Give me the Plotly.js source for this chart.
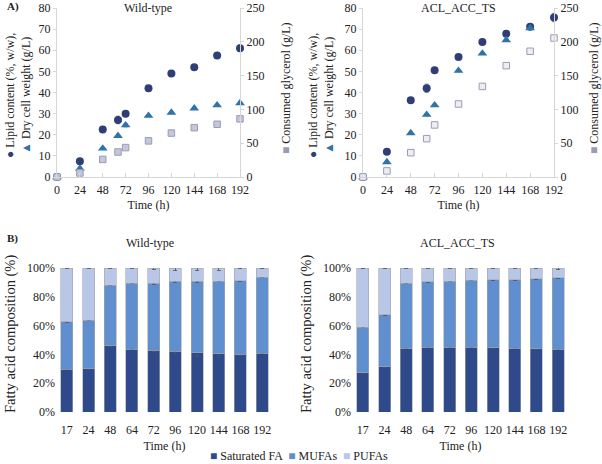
<!DOCTYPE html>
<html>
<head>
<meta charset="utf-8">
<script src="https://cdn.plot.ly/plotly-3.0.1.min.js"></script>
<style>html,body{margin:0;padding:0;background:#fff}#chart{width:602px;height:464px}</style>
</head>
<body>
<div id="chart"></div>
<script>
// ---- Panel A data ----
const timeA = [0, 24, 48, 64, 72, 96, 120, 144, 168, 192];
const tickA = [0, 24, 48, 72, 96, 120, 144, 168, 192];
const wtLipid = [0, 7.5, 22.5, 27, 30, 42, 49, 52, 57.5, 61];
const wtLipidErr = [0, 0.5, 1, 1.8, 1, 0.8, 0.6, 0.5, 1, 1.5];
const wtDCW = [0, 4, 13.5, 19.5, 24.5, 29, 30.5, 32.5, 34, 35];
const wtDCWErr = [0, 0.8, 0.5, 0.5, 0.8, 0.5, 0.5, 0.5, 0.5, 0.5];
const wtGly = [0, 6, 26, 37, 43.5, 53.5, 65, 73, 78, 86];
const wtGlyErr = [0, 2, 1, 1, 1, 2, 1, 1, 1, 1];
const mtLipid = [0, 12, 36.3, 42, 50.5, 56.8, 63.9, 67.8, 71.1, 75.5];
const mtLipidErr = [0, 0.5, 1, 2, 1, 1, 0.8, 0.8, 1, 2];
const mtDCW = [0, 7.1, 20.8, 29.5, 34, 50.3, 58.5, 64.8, 70.5, null];
const mtDCWErr = [0, 0.5, 0.5, 0.5, 0.5, 0.5, 0.5, 0.5, 0.5, 0];
const mtGly = [0, 9, 36, 56.7, 77, 108, 134, 164.7, 186, 205.6];
const mtGlyErr = [0, 1, 1, 1, 1, 1, 1, 1, 1, 1];

// ---- Panel B data ----
const timeB = ['17', '24', '48', '64', '72', '96', '120', '144', '168', '192'];
const wtSat = [29.8, 30, 46, 43.7, 42.8, 42.3, 41, 40.5, 40.2, 40.7];
const wtMUFA = [33, 33.7, 42.1, 45.8, 46.7, 48.6, 49.9, 50.4, 51, 52.8];
const wtPUFA = [37.2, 36.3, 11.9, 10.5, 10.5, 9.1, 9.1, 9.1, 8.8, 6.5];
const wtSatErr = [0.3, 0.3, 0.3, 0.3, 0.8, 2, 2.5, 1.5, 0.8, 0.3];
const wtMUFAErr = [0.4, 0.4, 0.5, 0.5, 0.8, 0.8, 1.2, 0.6, 0.5, 0.4];
const wtPUFAErr = [0.3, 0.3, 0.3, 0.3, 1, 2, 2, 1.5, 0.5, 0.5];
const mtSat = [27.1, 31.3, 44.4, 44.9, 44.9, 44.9, 44.7, 44.2, 44, 43.5];
const mtMUFA = [31.7, 36.3, 45, 45.4, 45.8, 46.5, 47, 47.5, 48.4, 49.8];
const mtPUFA = [41.2, 32.4, 10.6, 9.7, 9.3, 8.6, 8.3, 8.3, 7.6, 6.7];
const mtSatErr = [0.3, 0.3, 0.3, 0.3, 0.3, 0.3, 0.3, 0.3, 0.3, 0.3];
const mtMUFAErr = [0.3, 0.6, 0.4, 0.4, 0.4, 0.4, 0.4, 0.3, 0.3, 0.6];
const mtPUFAErr = [0.4, 0.6, 0.3, 0.3, 0.3, 0.2, 0.2, 0.3, 0.3, 1.2];
const seriesNames = ['Saturated FA', 'MUFAs', 'PUFAs'];

const W = 602, H = 464;
const px = x => x / W, py = y => 1 - y / H;
const FONT = "'Liberation Serif', 'Times New Roman', serif";
const cCirc = '#2f3e75', cTri = '#2f73a8', cSq = '#c4c7da', cSqLine = '#9a9cb3';
const cSat = '#2e4a8a', cMU = '#5f8fcf', cPU = '#b8c6e8';
const barColors = [cSat, cMU, cPU];

function err(a, c) { return {type: 'data', array: a, visible: true, color: c || '#666', thickness: 0.8, width: 2}; }

function scatterSet(xa, ya, ya2, lip, lipE, dcw, dcwE, gly, glyE, sqFill) {
  return [
    {x: timeA, y: lip, error_y: err(lipE, '#777'), xaxis: xa, yaxis: ya, type: 'scatter', mode: 'markers', cliponaxis: false, showlegend: false,
     marker: {symbol: 'circle', size: 8, color: cCirc}, name: 'Lipid content'},
    {x: timeA, y: dcw, error_y: err(dcwE, '#777'), xaxis: xa, yaxis: ya, type: 'scatter', mode: 'markers', cliponaxis: false, showlegend: false,
     marker: {symbol: 'triangle-up', size: 8.5, color: cTri}, name: 'Dry cell weight'},
    {x: timeA, y: gly, error_y: err(glyE, '#999'), xaxis: xa, yaxis: ya2, type: 'scatter', mode: 'markers', cliponaxis: false, showlegend: false,
     marker: {symbol: 'square', size: 6.5, color: sqFill, line: {color: cSqLine, width: 1}}, name: 'Consumed glycerol'}
  ];
}

function barSet(xa, ya, sat, mu, pu, satE, muE, puE) {
  const ln = {color: '#a6a6a6', width: 0.6};
  const vals = [sat, mu, pu], errs = [satE, muE, puE];
  return vals.map((v, i) => ({x: timeB, y: v, error_y: err(errs[i], '#555'), xaxis: xa, yaxis: ya, type: 'bar',
    name: seriesNames[i], showlegend: false, marker: {color: barColors[i], line: ln}}));
}

const data = [].concat(
  scatterSet('x', 'y', 'y2', wtLipid, wtLipidErr, wtDCW, wtDCWErr, wtGly, wtGlyErr, cSq),
  scatterSet('x2', 'y3', 'y4', mtLipid, mtLipidErr, mtDCW, mtDCWErr, mtGly, mtGlyErr, '#eeeef2'),
  barSet('x3', 'y5', wtSat, wtMUFA, wtPUFA, wtSatErr, wtMUFAErr, wtPUFAErr),
  barSet('x4', 'y6', mtSat, mtMUFA, mtPUFA, mtSatErr, mtMUFAErr, mtPUFAErr)
);

const tf = {family: FONT, size: 12, color: '#222'};
const tfBig = {family: FONT, size: 14.5, color: '#222'};
const axLine = '#d6d6d6';
const xTop = (dom, anchor) => ({domain: dom, anchor: anchor, range: [0, 192], tickvals: tickA, showgrid: false, zeroline: false,
  showline: true, linecolor: axLine, ticks: 'inside', ticklen: 4, tickcolor: axLine, tickfont: tf, ticklabelstandoff: 2,
  title: {text: 'Time (h)', font: tf, standoff: 4}});
const yLeft = (dom, anchor) => ({domain: dom, anchor: anchor, range: [0, 80], dtick: 10, showgrid: false, zeroline: false,
  showline: true, linecolor: axLine, ticks: 'outside', ticklen: 3, tickcolor: axLine, tickfont: tf});
const yRight = (over, anchor) => ({overlaying: over, anchor: anchor, side: 'right', range: [0, 250], dtick: 50, showgrid: false, zeroline: false,
  showline: true, linecolor: axLine, ticks: 'outside', ticklen: 3, tickcolor: axLine, tickfont: tf});
const xBot = (dom, anchor) => ({domain: dom, anchor: anchor, type: 'category', showgrid: false, zeroline: false, showline: false,
  ticks: 'outside', ticklen: 4, tickcolor: 'rgba(0,0,0,0)', tickfont: tf, ticklabelstandoff: 3, title: {text: 'Time (h)', font: tf, standoff: 5}});
const yBot = (dom, anchor) => ({domain: dom, anchor: anchor, range: [0, 100], tickvals: [0, 20, 40, 60, 80, 100],
  ticktext: ['0%', '20%', '40%', '60%', '80%', '100%'], showgrid: false, zeroline: false, showline: false, ticks: '', tickfont: tf});

const topY = [py(177), py(8)];
const botY = [py(412), py(268)];

const leftTitle = '<span style="color:' + cCirc + '">●</span> Lipid content (%, w/w),<br><span style="color:' + cTri + '">▲</span> Dry cell weight (g/L)';
const rightTitle = '<span style="color:' + cSqLine + '">■</span> Consumed glycerol (g/L)';
const legendText = seriesNames.map((n, i) => '<span style="color:' + barColors[i] + '">■</span> ' + n).join('  ');

function ann(text, x, y, extra) {
  return Object.assign({text: text, x: px(x), y: py(y), xref: 'paper', yref: 'paper', showarrow: false, font: tf,
    xanchor: 'center', yanchor: 'middle'}, extra || {});
}

const layout = {
  width: W, height: H,
  margin: {l: 0, r: 0, t: 0, b: 0},
  paper_bgcolor: '#fff', plot_bgcolor: 'rgba(0,0,0,0)',
  font: tf,
  barmode: 'stack', bargap: 0.45,
  showlegend: false,
  xaxis: xTop([px(57), px(240)], 'y'),
  yaxis: yLeft(topY, 'x'),
  yaxis2: yRight('y', 'x'),
  xaxis2: xTop([px(363), px(554)], 'y3'),
  yaxis3: yLeft(topY, 'x2'),
  yaxis4: yRight('y3', 'x2'),
  xaxis3: xBot([px(56), px(273)], 'y5'),
  yaxis5: yBot(botY, 'x3'),
  xaxis4: xBot([px(352), px(569)], 'y6'),
  yaxis6: yBot(botY, 'x4'),
  annotations: [
    ann('<b>A)</b>', 5, 7, {xanchor: 'left', font: {family: FONT, size: 11, color: '#222'}}),
    ann('<b>B)</b>', 5, 238, {xanchor: 'left', font: {family: FONT, size: 11, color: '#222'}}),
    ann('Wild-type', 148, 8),
    ann('ACL_ACC_TS', 458, 8),
    ann('Wild-type', 150, 243),
    ann('ACL_ACC_TS', 457, 243),
    ann(leftTitle, 18, 96, {textangle: -90}),
    ann(leftTitle, 321, 96, {textangle: -90}),
    ann(rightTitle, 286, 88, {textangle: -90}),
    ann(rightTitle, 594, 88, {textangle: -90}),
    ann('Fatty acid composition (%)', 10, 334, {textangle: -90, font: tfBig}),
    ann('Fatty acid composition (%)', 306, 334, {textangle: -90, font: tfBig}),
    ann(legendText, 299, 456)
  ]
};

Plotly.newPlot('chart', data, layout, {displayModeBar: false, staticPlot: true});
</script>
</body>
</html>
